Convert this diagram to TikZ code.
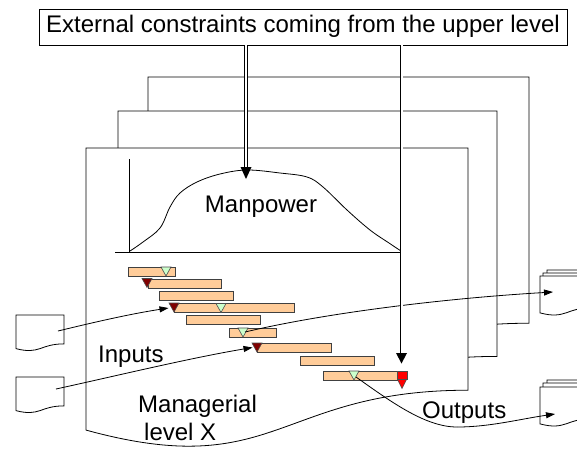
\documentclass[tikz,border=0pt]{standalone}
\usepackage{fontspec}
\setmainfont{Liberation Sans}
\usetikzlibrary{arrows.meta}
\definecolor{peach}{HTML}{FFCC99}
\definecolor{palegreen}{HTML}{CCFFCC}
\definecolor{darkred}{HTML}{800000}
\definecolor{brightred}{HTML}{FF0000}
% document shape: x y w h
\newcommand\docshape[4]{%
  \filldraw[fill=white, outline] (#1,#2) -- (#1+#3,#2) -- (#1+#3,#2+0.802*#4)
    .. controls (#1+0.5*#3,#2+0.802*#4) and (#1+0.5*#3,#2+1.1075*#4) .. (#1,#2+0.934*#4) -- cycle;}
% downward triangle: centre x, top y, colour
\newcommand\dtri[3]{%
  \filldraw[fill=#3, draw=black!70, line width=0.6pt] (#1-5,#2) -- (#1+5,#2) -- (#1,#2+9) -- cycle;}
\begin{document}
\begin{tikzpicture}[x=1pt,y=-1pt,
  outline/.style={draw=black, line width=0.8pt},
  bar/.style={draw=black!75, fill=peach, line width=0.7pt, anchor=north west,
              inner sep=0pt, minimum height=9pt, outer sep=0pt},
  thin/.style={draw=black, line width=0.8pt, -{Triangle[length=9pt,width=6pt]}},
  dbl/.style={draw=black, line width=0.8pt, double=white, double distance=2pt},
  lbl/.style={font=\fontsize{24}{28}\selectfont, inner sep=0pt},
  ]
\clip (0,0) rectangle (577,448);
\fill[white] (0,0) rectangle (577,448);

% stacked pages
\docshape{148}{77}{381}{307}
\docshape{118}{111}{379}{306}
\docshape{86}{148}{382}{302}

% manpower chart
\draw[outline] (129,159) -- (129,252);
\draw[outline] (115,252) -- (402,252);
\draw[line width=0.8pt] plot[smooth, tension=0.6] coordinates {
  (130,251) (143,242) (160,228) (170,207) (180,193) (197,182) (220,174)
  (247,170) (280,173) (307,177) (323,187) (347,210) (370,230) (389,243) (401,251)};

% bars
\node[bar, minimum width=47pt]  (b1) at (128,267) {};
\node[bar, minimum width=73pt]  (b2) at (148,279) {};
\node[bar, minimum width=74pt]  (b3) at (159,291) {};
\node[bar, minimum width=120pt] (b4) at (174,303.5) {};
\node[bar, minimum width=74pt]  (b5) at (186,315.5) {};
\node[bar, minimum width=47pt]  (b6) at (229,328) {};
\node[bar, minimum width=74pt]  (b7) at (257,343) {};
\node[bar, minimum width=74pt]  (b8) at (300,356.5) {};
\node[bar, minimum width=74pt]  (b9) at (323,371) {};

% milestones
\dtri{166}{267}{palegreen}
\dtri{147}{278.5}{darkred}
\dtri{174}{303}{darkred}
\dtri{221}{303.5}{palegreen}
\dtri{243}{328}{palegreen}
\dtri{257}{343}{darkred}
\dtri{354}{371}{palegreen}
\filldraw[fill=brightred, draw=black!70, line width=0.6pt] (397,371) rectangle (407,379.5);
\filldraw[fill=brightred, draw=black!70, line width=0.6pt] (397.5,379.5) -- (406.5,379.5) -- (402,388.5) -- cycle;

% input documents
\docshape{16}{315}{48}{36}
\docshape{16}{377}{48}{36}
% output multi-documents
\docshape{547}{270}{52}{39}
\docshape{543}{273}{52}{39}
\docshape{540}{276}{52}{39.5}
\docshape{547}{380}{52}{39}
\docshape{543}{383}{52}{39}
\docshape{540}{387}{52}{39.5}

% connector end points
\coordinate (in1s) at (58,331);
\coordinate (in1e) at (168.5,308);
\coordinate (in2s) at (56,389);
\coordinate (in2e) at (252.5,347.5);
\coordinate (out1s) at (245,332);
\coordinate (out1e) at (553,292);
\coordinate (out2s) at (356,377);
\coordinate (out2m) at (457,427);
\coordinate (out2e) at (555,414);

\draw[thin] (in1s) .. controls (95,322) and (130,314) .. (in1e);
\draw[thin] (in2s) .. controls (120,375) and (190,358) .. (in2e);
\draw[thin] (out1s) .. controls (330,312) and (450,298) .. (out1e);
\draw[line width=0.8pt] (out2s) .. controls (390,401) and (425,427) .. (out2m);
\draw[thin] (out2m) .. controls (490,427) and (520,419) .. (out2e);

% labels
\node[lbl, anchor=base] (mp) at (261,212) {Manpower};
\node[lbl, anchor=base west] (inp) at (98,362) {Inputs};
\node[lbl, anchor=base west] (outp) at (422,418) {Outputs};
\node[lbl, anchor=base west, align=left] (mgr) at (138,440) {Managerial\\\hspace*{6pt}level X};

% top box and constraints
\node[draw=black, line width=0.8pt, minimum width=528pt, minimum height=36pt,
      inner sep=0pt, text height=17pt, text depth=7pt,
      font=\fontsize{24}{28}\selectfont] (ext) at (303,27)
      {External constraints coming from the upper level};
\coordinate (h1) at (246,167);
\coordinate (h2) at (401.5,353);
\draw[dbl] (ext.south -| h1) -- (h1);
\draw[dbl] (ext.south -| h2) -- (h2);
\fill (h1) ++(-5.5,0) -- ++(11,0) -- ++(-5.5,12) -- cycle;
\fill (h2) ++(-5.5,0) -- ++(11,0) -- ++(-5.5,10.5) -- cycle;
\end{tikzpicture}
\end{document}
